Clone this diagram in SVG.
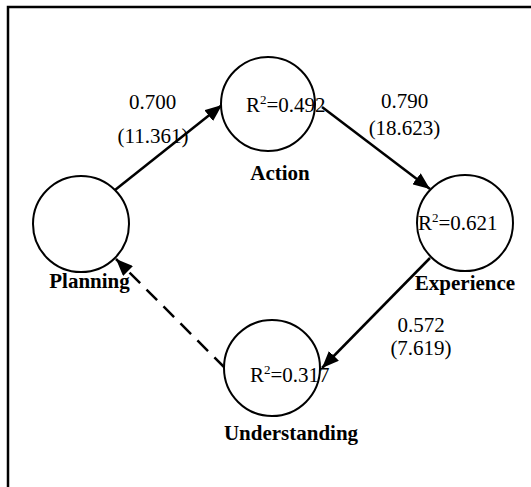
<svg xmlns="http://www.w3.org/2000/svg" width="531" height="487" viewBox="0 0 531 487">
<style>
.node{fill:#fff;stroke:#000;stroke-width:2}
.lbl{font-family:"Liberation Serif",serif;font-size:21px;font-weight:bold;text-anchor:middle;fill:#000}
.num{font-family:"Liberation Serif",serif;font-size:21px;text-anchor:middle;fill:#000}
.r2{font-family:"Liberation Serif",serif;font-size:21px;fill:#000}
.sup{font-size:13px}
.edge{stroke:#000;stroke-width:2.5;fill:none;marker-end:url(#ah)}
.dash{stroke-dasharray:15 9}
</style>
<defs>
<marker id="ah" markerUnits="userSpaceOnUse" markerWidth="18" markerHeight="14" refX="17" refY="7" orient="auto">
<path d="M0,0 L17,7 L0,14 z" fill="#000"/>
</marker>
</defs>
<rect width="531" height="487" fill="#fff"/>
<path d="M8,487 V7 H531" fill="none" stroke="#000" stroke-width="2.5"/>
<g id="connectors">
<line class="edge" x1="115" y1="190" x2="222" y2="105"/>
<line class="edge" x1="322" y1="107" x2="430" y2="189"/>
<line class="edge" x1="430" y1="258" x2="322" y2="368"/>
<line class="edge dash" x1="225" y1="368" x2="116" y2="259"/>
</g>
<g id="planning">
<circle class="node" cx="81" cy="224" r="48"/>
<text class="lbl" x="89.5" y="288">Planning</text>
</g>
<g id="action">
<circle class="node" cx="268" cy="104" r="47"/>
<text class="r2" x="246" y="112">R<tspan class="sup" dy="-8">2</tspan><tspan dy="8">=0.492</tspan></text>
<text class="lbl" x="280" y="180">Action</text>
</g>
<g id="experience">
<circle class="node" cx="465" cy="223" r="48"/>
<text class="r2" x="418" y="230">R<tspan class="sup" dy="-8">2</tspan><tspan dy="8">=0.621</tspan></text>
<text class="lbl" x="465" y="290">Experience</text>
</g>
<g id="understanding">
<circle class="node" cx="272" cy="368" r="48"/>
<text class="r2" x="250" y="382">R<tspan class="sup" dy="-8">2</tspan><tspan dy="8">=0.317</tspan></text>
<text class="lbl" x="291" y="440">Understanding</text>
</g>
<g id="edge-labels">
<text class="num" x="152.5" y="109">0.700</text>
<text class="num" x="153" y="143">(11.361)</text>
<text class="num" x="404.5" y="108">0.790</text>
<text class="num" x="404.5" y="135">(18.623)</text>
<text class="num" x="421" y="332">0.572</text>
<text class="num" x="421" y="355">(7.619)</text>
</g>
</svg>
